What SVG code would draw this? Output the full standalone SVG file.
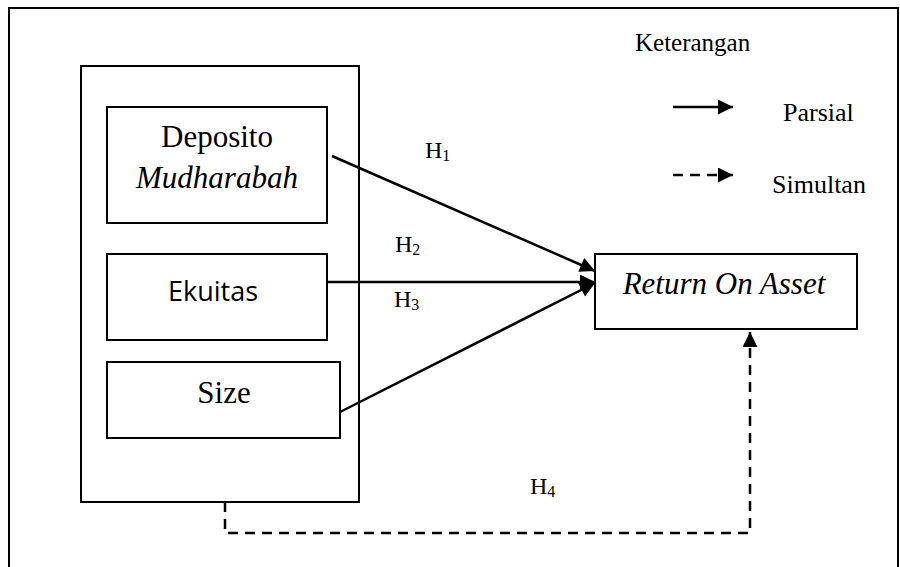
<svg xmlns="http://www.w3.org/2000/svg" width="900" height="567" viewBox="0 0 900 567">
<style>
.box{fill:#fff;stroke:#000;stroke-width:2}
.serif{font-family:"Liberation Serif","Times New Roman",serif;fill:#000}
.sans{font-family:"Open Sans","Liberation Sans",sans-serif;fill:#000}
.solid{fill:none;stroke:#000;stroke-width:2.5}
.dash{fill:none;stroke:#000;stroke-width:2.5;stroke-dasharray:10 7}
</style>
<defs>
<marker id="ah" viewBox="0 0 10 10" refX="10" refY="5" markerUnits="userSpaceOnUse" markerWidth="16" markerHeight="15" orient="auto">
<path d="M0,0 L10,5 L0,10 Z" fill="#000"/>
</marker>
</defs>
<rect width="900" height="567" fill="#fff"/>
<rect id="frame" x="9" y="8" width="889" height="570" fill="none" stroke="#000" stroke-width="2"/>

<g id="independen">
<rect class="box" x="81" y="66" width="278" height="436"/>
</g>
<g id="deposito">
<rect class="box" x="107" y="107" width="220" height="116"/>
<text class="serif" x="217" y="147" font-size="31" text-anchor="middle">Deposito</text>
<text class="serif" x="217" y="188" font-size="31" font-style="italic" text-anchor="middle">Mudharabah</text>
</g>
<g id="ekuitas">
<rect class="box" x="107" y="254" width="220" height="86"/>
<text class="sans" x="213" y="301" font-size="27" text-anchor="middle">Ekuitas</text>
</g>
<g id="size">
<rect class="box" x="107" y="362" width="233" height="76"/>
<text class="serif" x="224" y="403" font-size="31" text-anchor="middle">Size</text>
</g>
<g id="roa">
<rect class="box" x="595" y="254" width="262" height="75"/>
<text class="serif" x="724" y="294" font-size="31" font-style="italic" text-anchor="middle">Return On Asset</text>
</g>

<g id="connectors">
<line class="solid" x1="332" y1="156" x2="595" y2="271" marker-end="url(#ah)"/>
<line class="solid" x1="327" y1="282" x2="595" y2="282" marker-end="url(#ah)"/>
<line class="solid" x1="340" y1="412" x2="595" y2="283" marker-end="url(#ah)"/>
<path class="dash" d="M225,502 V533 H750 V332" marker-end="url(#ah)"/>
</g>

<g id="labels">
<text class="serif" x="425" y="158" font-size="24">H<tspan font-size="16" dy="3">1</tspan></text>
<text class="serif" x="395" y="252" font-size="24">H<tspan font-size="16" dy="3">2</tspan></text>
<text class="serif" x="394" y="307" font-size="24">H<tspan font-size="16" dy="3">3</tspan></text>
<text class="serif" x="530" y="494" font-size="24">H<tspan font-size="16" dy="3">4</tspan></text>
</g>

<g id="legend">
<text class="serif" x="635" y="51" font-size="25">Keterangan</text>
<line class="solid" x1="673" y1="107" x2="733" y2="107" marker-end="url(#ah)"/>
<text class="serif" x="783" y="121" font-size="26">Parsial</text>
<line class="dash" x1="673" y1="175" x2="733" y2="175" marker-end="url(#ah)"/>
<text class="serif" x="772" y="193" font-size="26">Simultan</text>
</g>
</svg>
